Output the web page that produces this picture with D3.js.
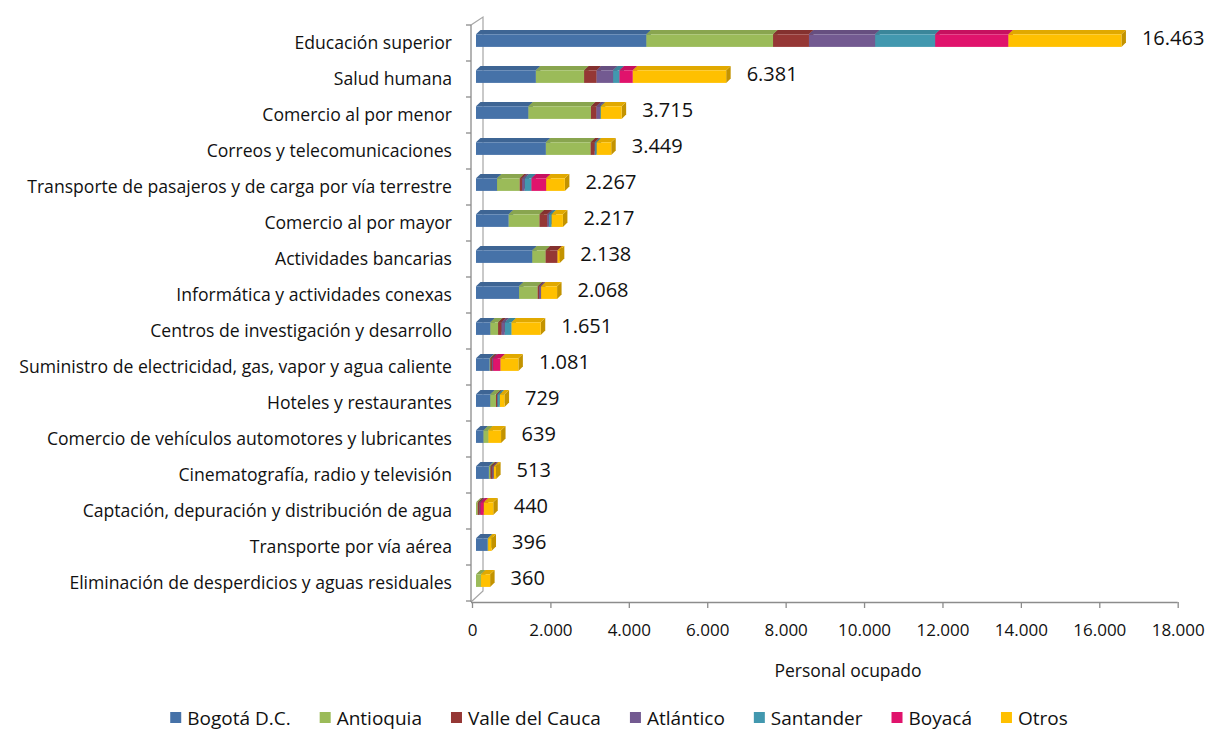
<!DOCTYPE html>
<html>
<head>
<meta charset="utf-8">
<script src="https://cdn.jsdelivr.net/npm/d3@7"></script>
<style>
  body { margin: 0; background: #fff; }
  svg { font-family: "Open Sans", sans-serif; }
</style>
</head>
<body>
<svg id="chart" width="1208" height="730"></svg>
<script>
// categories, top to bottom
const categories = [
  'Educación superior',
  'Salud humana',
  'Comercio al por menor',
  'Correos y telecomunicaciones',
  'Transporte de pasajeros y de carga por vía terrestre',
  'Comercio al por mayor',
  'Actividades bancarias',
  'Informática y actividades conexas',
  'Centros de investigación y desarrollo',
  'Suministro de electricidad, gas, vapor y agua caliente',
  'Hoteles y restaurantes',
  'Comercio de vehículos automotores y lubricantes',
  'Cinematografía, radio y televisión',
  'Captación, depuración y distribución de agua',
  'Transporte por vía aérea',
  'Eliminación de desperdicios y aguas residuales'
];

const seriesNames = ['Bogotá D.C.', 'Antioquia', 'Valle del Cauca', 'Atlántico', 'Santander', 'Boyacá', 'Otros'];

const bogota    = [4346, 1528, 1337, 1783, 537, 835, 1436, 1098, 367, 350, 365, 192, 330, 0, 300, 0];
const antioquia = [3232, 1231, 1595, 1141, 578, 786, 340, 475, 198, 18, 145, 124, 42, 44, 10, 128];
const valle     = [915, 317, 140, 101, 61, 197, 304, 36, 85, 44, 26, 0, 42, 44, 0, 0];
const atlantico = [1689, 421, 92, 15, 67, 41, 0, 51, 85, 26, 13, 0, 40, 26, 0, 0];
const santander = [1531, 163, 20, 38, 171, 69, 0, 0, 172, 0, 59, 0, 0, 0, 0, 0];
const boyaca    = [1867, 340, 0, 0, 376, 0, 0, 0, 0, 188, 0, 0, 0, 85, 0, 0];
const otros     = [2883, 2381, 531, 371, 477, 289, 58, 408, 744, 455, 121, 323, 59, 241, 86, 232];

const totals = [16463, 6381, 3715, 3449, 2267, 2217, 2138, 2068, 1651, 1081, 729, 639, 513, 440, 396, 360];

const xTicks = [0, 2000, 4000, 6000, 8000, 10000, 12000, 14000, 16000, 18000];

const colors = ['#4672a8', '#9bbb59', '#953735', '#735a91', '#4298af', '#e0136c', '#ffc000'];

const seriesValues = [bogota, antioquia, valle, atlantico, santander, boyaca, otros];

const table = categories.map((c, i) => {
  const row = { cat: c };
  seriesNames.forEach((s, j) => { row[s] = seriesValues[j][i]; });
  return row;
});
const stacked = d3.stack().keys(seriesNames)(table);

const svg = d3.select('#chart');
const color = d3.scaleOrdinal().domain(seriesNames).range(colors);

const x = d3.scaleLinear().domain([0, 18000]).range([472, 1177.7]);
const y = d3.scaleBand().domain(categories).range([25, 601]);

const es = d3.formatLocale({ decimal: ',', thousands: '.', grouping: [3], currency: ['', ''] });
const fmt = es.format(',d');

const gridColor = '#8c8c8c';
const depthX = 4.5, depthY = 4.3;   // 3d offset of bars
const barShift = 4;                 // bars sit a bit behind the front axis
const barTop = 9.3, barH = 12.6;

// back wall / floor edges
const wall = svg.append('g').attr('stroke', '#a6a6a6').attr('fill', 'none').attr('stroke-width', 1.2);
wall.append('path').attr('d', `M471,25 L483,17 L483,591 L471,602`);

// front vertical axis with category ticks
const vAxis = svg.append('g').attr('stroke', gridColor).attr('stroke-width', 1.3);
vAxis.append('line').attr('x1', 471).attr('x2', 471).attr('y1', 25).attr('y2', 602);
vAxis.selectAll('line.tk')
  .data(d3.range(categories.length + 1))
  .enter()
  .append('line')
  .attr('class', 'tk')
  .attr('x1', 466).attr('x2', 471)
  .attr('y1', i => 25 + i * y.step())
  .attr('y2', i => 25 + i * y.step());

// bottom axis
const xAxis = svg.append('g')
  .attr('transform', 'translate(0,602)')
  .call(d3.axisBottom(x).tickValues(xTicks).tickFormat(fmt).tickSize(6).tickSizeOuter(0));
xAxis.select('.domain').attr('stroke', gridColor).attr('stroke-width', 1.5)
  .attr('d', `M471,0.5H${x(18000)}`);
xAxis.selectAll('.tick line').attr('stroke', gridColor).attr('stroke-width', 1.3);
xAxis.selectAll('.tick text')
  .attr('y', 0).attr('dy', null)
  .attr('transform', 'translate(0,34)')
  .attr('fill', '#111')
  .style('font-size', '17px')
  .style('font-family', '"Open Sans", sans-serif');

svg.append('text')
  .attr('x', 848).attr('y', 677)
  .attr('text-anchor', 'middle')
  .attr('fill', '#111')
  .style('font-size', '17.5px')
  .text('Personal ocupado');

// category labels
svg.append('g').selectAll('text')
  .data(categories)
  .enter()
  .append('text')
  .attr('x', 452)
  .attr('y', d => y(d) + 23.8)
  .attr('text-anchor', 'end')
  .attr('fill', '#111')
  .style('font-size', '17.6px')
  .text(d => d);

// 3d stacked bars
const bars = svg.append('g');
categories.forEach((cat, i) => {
  const top = y(cat) + barTop;
  stacked.forEach(layer => {
    const seg = layer[i];
    if (seg[1] - seg[0] <= 0) return;
    const x0 = x(seg[0]) + barShift, x1 = x(seg[1]) + barShift;
    const c = d3.color(color(layer.key));
    const g = bars.append('g');
    // right side face
    g.append('path')
      .attr('d', `M${x1},${top} L${x1 + depthX},${top - depthY} L${x1 + depthX},${top + barH - depthY} L${x1},${top + barH} Z`)
      .attr('fill', c.darker(0.75));
    // top face
    g.append('path')
      .attr('d', `M${x0},${top} L${x0 + depthX},${top - depthY} L${x1 + depthX},${top - depthY} L${x1},${top} Z`)
      .attr('fill', c.darker(0.35));
    // front face
    g.append('rect')
      .attr('x', x0).attr('y', top)
      .attr('width', x1 - x0).attr('height', barH)
      .attr('fill', c);
  });
});

// total labels
svg.append('g').selectAll('text')
  .data(totals)
  .enter()
  .append('text')
  .attr('x', (d, i) => x(d) + barShift + depthX + 16)
  .attr('y', (d, i) => y(categories[i]) + 20)
  .attr('fill', '#111')
  .style('font-size', '20px')
  .text(d => fmt(d));

// legend
const legend = svg.append('g').attr('class', 'legend-wrapper');
const items = legend.selectAll('.legend')
  .data(seriesNames)
  .enter()
  .append('g')
  .attr('class', 'legend');
items.append('rect')
  .attr('width', 11).attr('height', 11)
  .attr('y', 712)
  .attr('fill', d => color(d));
items.append('text')
  .attr('x', 17)
  .attr('y', 724.5)
  .attr('fill', '#111')
  .style('font-size', '19px')
  .text(d => d);

let widths = [];
items.each(function () { widths.push(17 + this.querySelector('text').getComputedTextLength()); });
const legendGap = 29;
const legendTotal = d3.sum(widths) + legendGap * (widths.length - 1);
let cursor = 619 - legendTotal / 2;
items.attr('transform', (d, i) => {
  const pos = cursor;
  cursor += widths[i] + legendGap;
  return `translate(${pos},0)`;
});
</script>
</body>
</html>
